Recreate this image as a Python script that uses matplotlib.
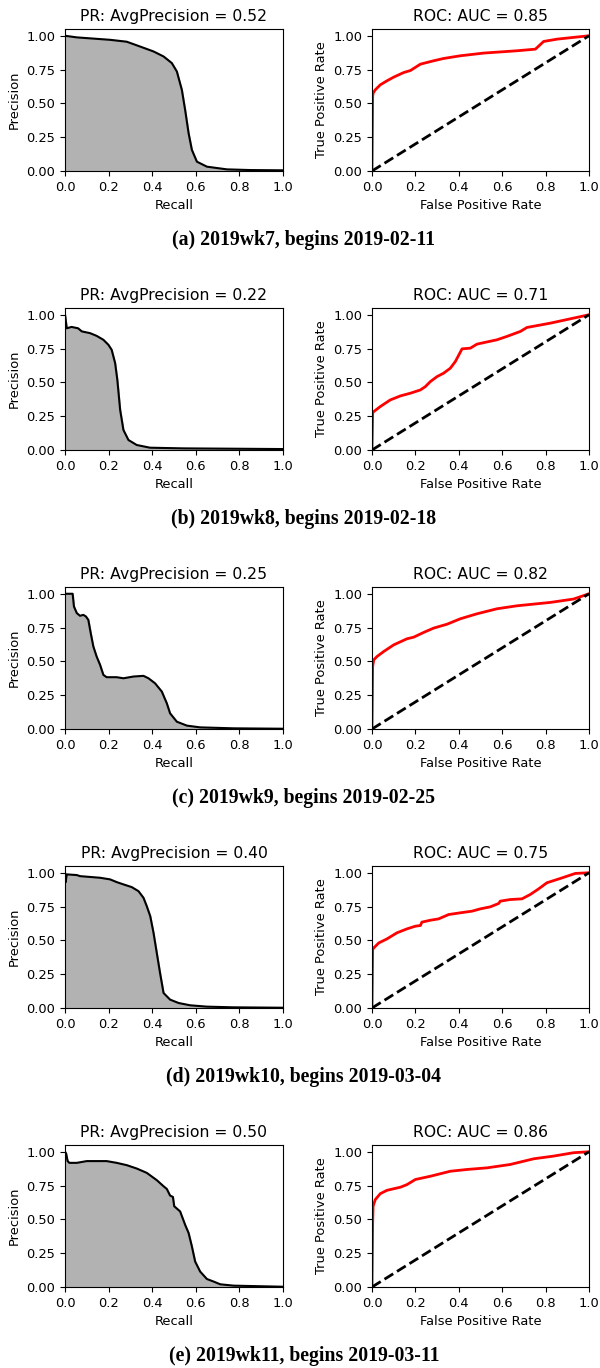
import matplotlib as mpl
mpl.use('Agg')
import numpy as np
import matplotlib.pyplot as plt

mpl.rcParams.update({
    'font.family': 'DejaVu Sans',
    'font.size': 9.4,
})

weeks = ['2019wk7', '2019wk8', '2019wk9', '2019wk10', '2019wk11']
begins = ['2019-02-11', '2019-02-18', '2019-02-25', '2019-03-04', '2019-03-11']
letters = ['a', 'b', 'c', 'd', 'e']
avg_prec = [0.52, 0.22, 0.25, 0.40, 0.50]
aucs = [0.85, 0.71, 0.82, 0.75, 0.86]

# precision-recall curves
pr_recall = [
    [0, 0.054, 0.207, 0.283, 0.345, 0.406, 0.452, 0.49, 0.513, 0.536, 0.551, 0.567, 0.582, 0.605, 0.651, 0.743, 0.85, 1.0],
    [0, 0.005, 0.008, 0.03, 0.06, 0.077, 0.115, 0.145, 0.176, 0.199, 0.214, 0.23, 0.24, 0.253, 0.268, 0.291, 0.329, 0.39, 0.544, 1.0],
    [0, 0.035, 0.041, 0.054, 0.069, 0.084, 0.096, 0.107, 0.118, 0.13, 0.145, 0.161, 0.176, 0.191, 0.237, 0.268, 0.314, 0.36, 0.383, 0.413, 0.444, 0.467, 0.482, 0.513, 0.559, 0.62, 0.773, 1.0],
    [0, 0.003, 0.008, 0.054, 0.069, 0.161, 0.207, 0.237, 0.268, 0.306, 0.337, 0.36, 0.375, 0.391, 0.406, 0.421, 0.436, 0.452, 0.482, 0.521, 0.574, 0.651, 0.773, 1.0],
    [0, 0.005, 0.012, 0.02, 0.054, 0.1, 0.191, 0.237, 0.283, 0.329, 0.375, 0.421, 0.452, 0.467, 0.482, 0.495, 0.501, 0.528, 0.551, 0.567, 0.582, 0.597, 0.62, 0.651, 0.682, 0.712, 0.773, 1.0],
]
pr_precision = [
    [1.0, 0.988, 0.97, 0.956, 0.92, 0.884, 0.847, 0.798, 0.736, 0.6, 0.452, 0.279, 0.156, 0.069, 0.032, 0.012, 0.007, 0.005],
    [1.0, 0.938, 0.90, 0.91, 0.90, 0.877, 0.864, 0.844, 0.815, 0.778, 0.741, 0.642, 0.519, 0.296, 0.148, 0.074, 0.037, 0.017, 0.012, 0.007],
    [1.0, 1.0, 0.906, 0.857, 0.837, 0.844, 0.832, 0.807, 0.709, 0.61, 0.536, 0.474, 0.40, 0.383, 0.383, 0.375, 0.388, 0.393, 0.375, 0.338, 0.277, 0.19, 0.116, 0.054, 0.025, 0.012, 0.005, 0.002],
    [1.0, 0.93, 0.988, 0.983, 0.975, 0.963, 0.951, 0.931, 0.914, 0.894, 0.864, 0.815, 0.753, 0.679, 0.556, 0.407, 0.259, 0.111, 0.062, 0.037, 0.02, 0.01, 0.005, 0.002],
    [1.0, 0.988, 0.931, 0.918, 0.918, 0.931, 0.931, 0.918, 0.901, 0.876, 0.844, 0.79, 0.745, 0.725, 0.676, 0.666, 0.597, 0.559, 0.46, 0.399, 0.30, 0.188, 0.114, 0.059, 0.04, 0.02, 0.01, 0.002],
]

# ROC curves
roc_fpr = [
    [0, 0.003, 0.005, 0.015, 0.038, 0.069, 0.1, 0.146, 0.177, 0.223, 0.284, 0.33, 0.407, 0.515, 0.668, 0.753, 0.791, 0.853, 0.929, 1.0],
    [0, 0.003, 0.008, 0.038, 0.084, 0.131, 0.177, 0.223, 0.246, 0.269, 0.3, 0.33, 0.361, 0.384, 0.415, 0.453, 0.484, 0.576, 0.622, 0.684, 0.714, 0.822, 1.0],
    [0, 0.003, 0.008, 0.023, 0.054, 0.1, 0.161, 0.192, 0.238, 0.284, 0.346, 0.407, 0.484, 0.576, 0.668, 0.822, 0.929, 1.0],
    [0, 0.003, 0.008, 0.031, 0.069, 0.115, 0.161, 0.2, 0.223, 0.23, 0.269, 0.307, 0.353, 0.407, 0.461, 0.499, 0.545, 0.584, 0.591, 0.637, 0.691, 0.73, 0.768, 0.806, 0.868, 0.937, 1.0],
    [0, 0.003, 0.005, 0.015, 0.038, 0.069, 0.131, 0.161, 0.2, 0.269, 0.361, 0.438, 0.53, 0.637, 0.745, 0.837, 0.929, 1.0],
]
roc_tpr = [
    [0, 0.551, 0.575, 0.60, 0.637, 0.667, 0.694, 0.728, 0.743, 0.79, 0.815, 0.832, 0.852, 0.872, 0.889, 0.901, 0.958, 0.975, 0.988, 1.0],
    [0, 0.272, 0.284, 0.321, 0.37, 0.40, 0.42, 0.444, 0.469, 0.506, 0.543, 0.568, 0.605, 0.654, 0.748, 0.753, 0.783, 0.815, 0.84, 0.877, 0.906, 0.938, 1.0],
    [0, 0.462, 0.511, 0.536, 0.573, 0.622, 0.667, 0.679, 0.714, 0.746, 0.775, 0.815, 0.852, 0.889, 0.911, 0.936, 0.961, 1.0],
    [0, 0.432, 0.444, 0.481, 0.511, 0.556, 0.585, 0.605, 0.61, 0.635, 0.649, 0.659, 0.691, 0.704, 0.716, 0.733, 0.748, 0.773, 0.79, 0.802, 0.807, 0.84, 0.881, 0.926, 0.958, 0.995, 1.0],
    [0, 0.473, 0.597, 0.646, 0.69, 0.715, 0.738, 0.757, 0.795, 0.819, 0.856, 0.869, 0.881, 0.906, 0.948, 0.968, 0.993, 1.0],
]

W, H = 600, 1368
fig = plt.figure(figsize=(W / 100, H / 100), dpi=100)

ax_h = 142
tops = [29, 308, 587, 866, 1145]
xt = [0, 0.2, 0.4, 0.6, 0.8, 1.0]
yt = [0, 0.25, 0.5, 0.75, 1.0]

for i in range(5):
    top = tops[i]
    bottom = (H - top - ax_h) / H

    ax = fig.add_axes([65 / W, bottom, 218 / W, ax_h / H])
    ax.fill_between(pr_recall[i], pr_precision[i], color='#b2b2b2')
    ax.plot(pr_recall[i], pr_precision[i], color='k', lw=1.5)
    ax.set_xlim(0, 1)
    ax.set_ylim(0, 1.05)
    ax.set_xticks(xt)
    ax.set_yticks(yt)
    ax.set_xlabel('Recall')
    ax.set_ylabel('Precision')
    ax.set_title('PR: AvgPrecision = %.2f' % avg_prec[i])

    ax2 = fig.add_axes([372 / W, bottom, 217 / W, ax_h / H])
    ax2.plot(roc_fpr[i], roc_tpr[i], color='r', lw=2)
    ax2.plot([0, 1], [0, 1], color='k', lw=2, ls='--')
    ax2.set_xlim(0, 1)
    ax2.set_ylim(0, 1.05)
    ax2.set_xticks(xt)
    ax2.set_yticks(yt)
    ax2.set_xlabel('False Positive Rate')
    ax2.set_ylabel('True Positive Rate')
    ax2.set_title('ROC: AUC = %.2f' % aucs[i])

    fig.text(304 / W, 1 - (top + ax_h + 69) / H,
             '(%s) %s, begins %s' % (letters[i], weeks[i], begins[i]),
             ha='center', va='center', family='Liberation Serif',
             weight='bold', fontsize=14.2)

fig.savefig('out.png', dpi=100)
